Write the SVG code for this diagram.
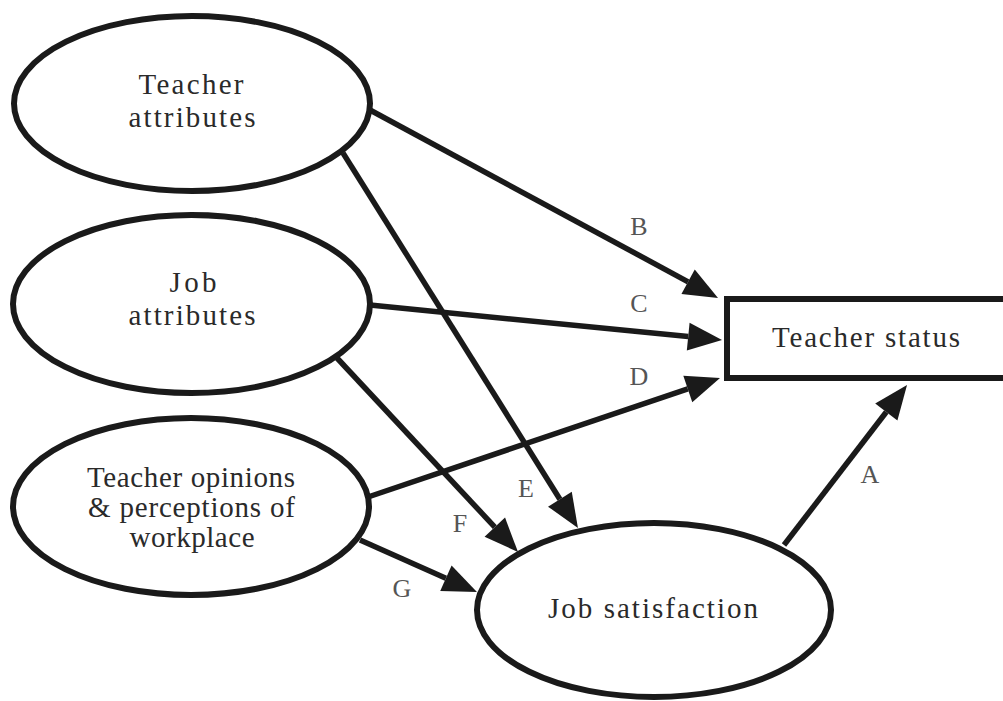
<svg xmlns="http://www.w3.org/2000/svg" width="1003" height="701" viewBox="0 0 1003 701">
<defs>
<style>
.node{fill:#fff;stroke:#1a1a1a;stroke-width:6}
.t{font-family:"Liberation Serif","Times New Roman",serif;font-size:29px;fill:#2a2a2a;text-anchor:middle}
.edge{fill:none;stroke:#1a1a1a;stroke-width:5.5}
.lbl{font-family:"Liberation Serif","Times New Roman",serif;font-size:26px;fill:#555;text-anchor:middle}
</style>
<marker id="ah" viewBox="0 0 34 28" markerUnits="userSpaceOnUse" markerWidth="34" markerHeight="28" refX="0" refY="14" orient="auto" overflow="visible">
<path d="M0,0 L34,14 L0,28 z" fill="#1a1a1a"/>
</marker>
</defs>
<rect width="1003" height="701" fill="#fff"/>
<g id="connectors">
<path class="edge" d="M370,110 L688.1,281.8" marker-end="url(#ah)"/>
<path class="edge" d="M370,305 L688.2,336.6" marker-end="url(#ah)"/>
<path class="edge" d="M368,497 L687.8,388.9" marker-end="url(#ah)"/>
<path class="edge" d="M343,153 L559.9,499.2" marker-end="url(#ah)"/>
<path class="edge" d="M337,358 L494.8,527.1" marker-end="url(#ah)"/>
<path class="edge" d="M360,540 L445.9,578.2" marker-end="url(#ah)"/>
<path class="edge" d="M784,545 L886.3,412" marker-end="url(#ah)"/>
<text class="lbl" x="639" y="235">B</text>
<text class="lbl" x="639" y="312">C</text>
<text class="lbl" x="639" y="385">D</text>
<text class="lbl" x="526" y="497">E</text>
<text class="lbl" x="460" y="532">F</text>
<text class="lbl" x="402" y="597">G</text>
<text class="lbl" x="870" y="483">A</text>
</g>
<g id="teacher-attributes">
<ellipse class="node" cx="192" cy="103.5" rx="178" ry="87.5"/>
<text class="t" x="191" y="94" textLength="105" lengthAdjust="spacing">Teacher</text>
<text class="t" x="192" y="127" textLength="127" lengthAdjust="spacing">attributes</text>
</g>
<g id="job-attributes">
<ellipse class="node" cx="191.5" cy="304" rx="178.5" ry="89"/>
<text class="t" x="193" y="292" textLength="47" lengthAdjust="spacing">Job</text>
<text class="t" x="192" y="325" textLength="127" lengthAdjust="spacing">attributes</text>
</g>
<g id="teacher-opinions">
<ellipse class="node" cx="191" cy="506.5" rx="178" ry="88.5"/>
<text class="t" x="191" y="487" textLength="208" lengthAdjust="spacing">Teacher opinions</text>
<text class="t" x="191.5" y="517" textLength="207" lengthAdjust="spacing">&amp; perceptions of</text>
<text class="t" x="192" y="547" textLength="125" lengthAdjust="spacing">workplace</text>
</g>
<g id="job-satisfaction">
<ellipse class="node" cx="654" cy="610" rx="177" ry="87"/>
<text class="t" x="653" y="618" textLength="210" lengthAdjust="spacing">Job satisfaction</text>
</g>
<g id="teacher-status">
<rect class="node" x="727" y="299" width="300" height="79" stroke-width="5"/>
<text class="t" x="866" y="347" textLength="188" lengthAdjust="spacing">Teacher status</text>
</g>
</svg>
